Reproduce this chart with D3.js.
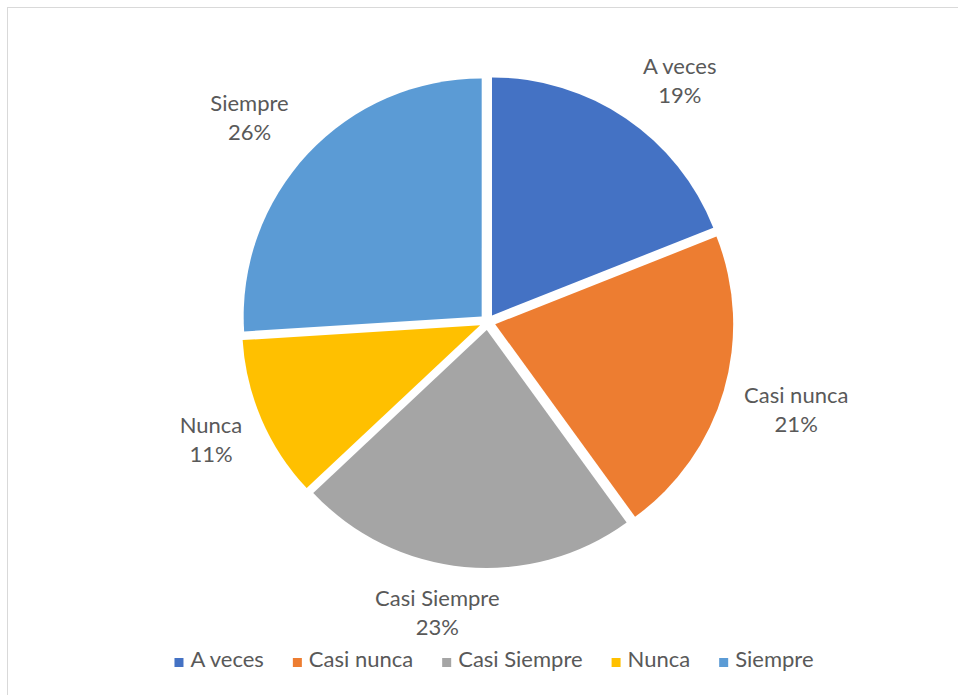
<!DOCTYPE html>
<html>
<head>
<meta charset="utf-8">
<script src="https://cdn.jsdelivr.net/npm/d3@7"></script>
<style>
  html, body { margin: 0; padding: 0; background: #ffffff; }
  svg { display: block; }
  text { font-family: Lato, "Liberation Sans", sans-serif; fill: #595959; }
</style>
</head>
<body>
<svg id="chart" width="958" height="695"></svg>
<script>
// Survey answers and their share of responses (%)
const categories = ["A veces", "Casi nunca", "Casi Siempre", "Nunca", "Siempre"];
const shares = [19, 21, 23, 11, 26];
const colors = ["#4472C4", "#ED7D31", "#A5A5A5", "#FFC000", "#5B9BD5"];

const W = 958, H = 695;
const cx = 487.5, cy = 322, radius = 238, explode = 8;
const fontSize = 22;

const svg = d3.select("#chart");

// chart frame
svg.append("rect")
  .attr("x", 7.5).attr("y", 7.5)
  .attr("width", W + 20).attr("height", H + 20)
  .attr("fill", "none").attr("stroke", "#d9d9d9").attr("stroke-width", 1);

const data = categories.map((c, i) => ({ name: c, value: shares[i], color: colors[i] }));
const pie = d3.pie().value(d => d.value).sort(null);
const arcs = pie(data);
const arc = d3.arc().innerRadius(0).outerRadius(radius);

const g = svg.append("g").attr("transform", `translate(${cx},${cy})`);

// exploded slices: each one pushed out along its bisector
g.selectAll("path.slice")
  .data(arcs)
  .join("path")
  .attr("class", "slice")
  .attr("d", arc)
  .attr("fill", d => d.data.color)
  .attr("transform", d => {
    const a = (d.startAngle + d.endAngle) / 2;
    return `translate(${explode * Math.sin(a)},${-explode * Math.cos(a)})`;
  });

// outside labels, placed along each bisector with a small best-fit nudge
const labelRadius = 310;
const nudges = [[18, 15], [11, 2], [-21, -18], [8, -5], [-12, 8]];
const labels = g.selectAll("g.label")
  .data(arcs)
  .join("g")
  .attr("class", "label")
  .attr("transform", (d, i) => {
    const a = (d.startAngle + d.endAngle) / 2;
    const x = labelRadius * Math.sin(a) + nudges[i][0];
    const y = -labelRadius * Math.cos(a) + nudges[i][1];
    return `translate(${x},${y})`;
  });

labels.append("text")
  .attr("text-anchor", "middle")
  .attr("y", -7)
  .style("font-size", fontSize + "px")
  .text(d => d.data.name);

labels.append("text")
  .attr("text-anchor", "middle")
  .attr("y", 22)
  .style("font-size", fontSize + "px")
  .text(d => Math.round(d.data.value / d3.sum(shares) * 100) + "%");

// legend along the bottom, centred
const legend = svg.append("g");
const items = legend.selectAll("g.item")
  .data(data)
  .join("g")
  .attr("class", "item");

items.append("rect")
  .attr("width", 9).attr("height", 9)
  .attr("y", -9)
  .attr("fill", d => d.color);

items.append("text")
  .attr("x", 16)
  .style("font-size", fontSize + "px")
  .text(d => d.name);

let xpos = 0;
items.each(function() {
  const t = d3.select(this).select("text").node().getComputedTextLength();
  d3.select(this).attr("transform", `translate(${xpos},0)`);
  xpos += 16 + t + 29;
});
const total = xpos - 29;
legend.attr("transform", `translate(${494 - total / 2},667)`);
</script>
</body>
</html>
